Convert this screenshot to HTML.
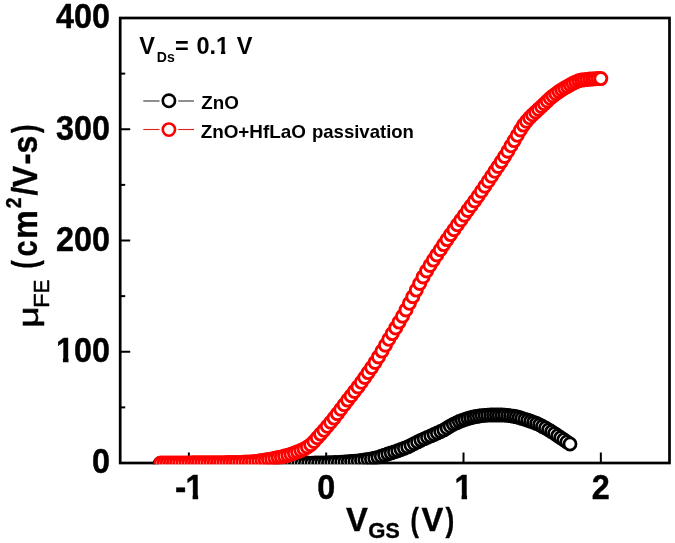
<!DOCTYPE html>
<html><head><meta charset="utf-8">
<style>
html,body{margin:0;padding:0;background:#fff;}
body{width:675px;height:543px;overflow:hidden;font-family:"Liberation Sans",sans-serif;}
svg{display:block;will-change:transform;filter:blur(0.4px);}
text{font-family:"Liberation Sans",sans-serif;font-weight:bold;fill:#000;}
</style></head>
<body>
<svg width="675" height="543" viewBox="0 0 675 543">
<defs><clipPath id="plot"><rect x="118.85000000000001" y="16.65" width="552.0" height="447.7"/></clipPath></defs>
<rect width="675" height="543" fill="#fff"/>
<g stroke="#000" stroke-width="2" fill="none">
<line x1="120.2" y1="351.75" x2="130.2" y2="351.75"/>
<line x1="120.2" y1="240.50" x2="130.2" y2="240.50"/>
<line x1="120.2" y1="129.25" x2="130.2" y2="129.25"/>
<line x1="120.2" y1="407.38" x2="125.2" y2="407.38"/>
<line x1="120.2" y1="296.12" x2="125.2" y2="296.12"/>
<line x1="120.2" y1="184.88" x2="125.2" y2="184.88"/>
<line x1="120.2" y1="73.62" x2="125.2" y2="73.62"/>
<line x1="188.86" y1="463.0" x2="188.86" y2="452.5"/>
<line x1="326.19" y1="463.0" x2="326.19" y2="452.5"/>
<line x1="463.51" y1="463.0" x2="463.51" y2="452.5"/>
<line x1="600.84" y1="463.0" x2="600.84" y2="452.5"/>
</g>
<rect x="120.2" y="18.0" width="549.3" height="445.0" fill="none" stroke="#000" stroke-width="2.7"/>
<g clip-path="url(#plot)">
<g fill="#fff" stroke="#000" stroke-width="2.75">
<circle cx="160.2" cy="463.5" r="6.05"/>
<circle cx="163.5" cy="463.5" r="6.05"/>
<circle cx="166.8" cy="463.5" r="6.05"/>
<circle cx="170.1" cy="463.5" r="6.05"/>
<circle cx="173.4" cy="463.5" r="6.05"/>
<circle cx="176.7" cy="463.5" r="6.05"/>
<circle cx="180.0" cy="463.5" r="6.05"/>
<circle cx="183.3" cy="463.5" r="6.05"/>
<circle cx="186.6" cy="463.5" r="6.05"/>
<circle cx="189.9" cy="463.5" r="6.05"/>
<circle cx="193.2" cy="463.5" r="6.05"/>
<circle cx="196.5" cy="463.5" r="6.05"/>
<circle cx="199.8" cy="463.5" r="6.05"/>
<circle cx="203.1" cy="463.5" r="6.05"/>
<circle cx="206.4" cy="463.5" r="6.05"/>
<circle cx="209.7" cy="463.5" r="6.05"/>
<circle cx="213.0" cy="463.5" r="6.05"/>
<circle cx="216.3" cy="463.5" r="6.05"/>
<circle cx="219.6" cy="463.5" r="6.05"/>
<circle cx="222.9" cy="463.5" r="6.05"/>
<circle cx="226.2" cy="463.5" r="6.05"/>
<circle cx="229.5" cy="463.5" r="6.05"/>
<circle cx="232.8" cy="463.5" r="6.05"/>
<circle cx="236.1" cy="463.5" r="6.05"/>
<circle cx="239.4" cy="463.5" r="6.05"/>
<circle cx="242.7" cy="463.5" r="6.05"/>
<circle cx="246.0" cy="463.5" r="6.05"/>
<circle cx="249.3" cy="463.5" r="6.05"/>
<circle cx="252.6" cy="463.5" r="6.05"/>
<circle cx="255.9" cy="463.5" r="6.05"/>
<circle cx="259.2" cy="463.5" r="6.05"/>
<circle cx="262.5" cy="463.5" r="6.05"/>
<circle cx="265.8" cy="463.5" r="6.05"/>
<circle cx="269.1" cy="463.5" r="6.05"/>
<circle cx="272.4" cy="463.5" r="6.05"/>
<circle cx="275.7" cy="463.5" r="6.05"/>
<circle cx="279.0" cy="463.4" r="6.05"/>
<circle cx="282.3" cy="463.4" r="6.05"/>
<circle cx="285.6" cy="463.4" r="6.05"/>
<circle cx="288.9" cy="463.4" r="6.05"/>
<circle cx="292.2" cy="463.3" r="6.05"/>
<circle cx="295.5" cy="463.3" r="6.05"/>
<circle cx="298.8" cy="463.3" r="6.05"/>
<circle cx="302.1" cy="463.2" r="6.05"/>
<circle cx="305.4" cy="463.2" r="6.05"/>
<circle cx="308.7" cy="463.1" r="6.05"/>
<circle cx="312.0" cy="463.1" r="6.05"/>
<circle cx="315.3" cy="463.0" r="6.05"/>
<circle cx="318.6" cy="463.0" r="6.05"/>
<circle cx="321.9" cy="462.9" r="6.05"/>
<circle cx="325.2" cy="462.8" r="6.05"/>
<circle cx="328.5" cy="462.7" r="6.05"/>
<circle cx="331.8" cy="462.6" r="6.05"/>
<circle cx="335.1" cy="462.4" r="6.05"/>
<circle cx="338.4" cy="462.3" r="6.05"/>
<circle cx="341.7" cy="462.1" r="6.05"/>
<circle cx="345.0" cy="461.9" r="6.05"/>
<circle cx="348.3" cy="461.7" r="6.05"/>
<circle cx="351.6" cy="461.5" r="6.05"/>
<circle cx="354.9" cy="461.2" r="6.05"/>
<circle cx="358.2" cy="460.9" r="6.05"/>
<circle cx="361.5" cy="460.4" r="6.05"/>
<circle cx="364.8" cy="460.0" r="6.05"/>
<circle cx="368.1" cy="459.5" r="6.05"/>
<circle cx="371.4" cy="458.9" r="6.05"/>
<circle cx="374.7" cy="458.2" r="6.05"/>
<circle cx="378.0" cy="457.3" r="6.05"/>
<circle cx="381.3" cy="456.2" r="6.05"/>
<circle cx="384.6" cy="455.1" r="6.05"/>
<circle cx="387.9" cy="454.0" r="6.05"/>
<circle cx="391.2" cy="452.9" r="6.05"/>
<circle cx="394.5" cy="451.8" r="6.05"/>
<circle cx="397.8" cy="450.7" r="6.05"/>
<circle cx="401.1" cy="449.5" r="6.05"/>
<circle cx="404.4" cy="448.2" r="6.05"/>
<circle cx="407.7" cy="446.9" r="6.05"/>
<circle cx="411.0" cy="445.3" r="6.05"/>
<circle cx="414.3" cy="443.6" r="6.05"/>
<circle cx="417.6" cy="441.9" r="6.05"/>
<circle cx="420.9" cy="440.3" r="6.05"/>
<circle cx="424.2" cy="438.8" r="6.05"/>
<circle cx="427.5" cy="437.3" r="6.05"/>
<circle cx="430.8" cy="435.9" r="6.05"/>
<circle cx="434.1" cy="434.5" r="6.05"/>
<circle cx="437.4" cy="433.0" r="6.05"/>
<circle cx="440.7" cy="431.5" r="6.05"/>
<circle cx="443.9" cy="429.9" r="6.05"/>
<circle cx="447.1" cy="428.0" r="6.05"/>
<circle cx="450.2" cy="426.1" r="6.05"/>
<circle cx="453.3" cy="424.3" r="6.05"/>
<circle cx="456.3" cy="422.9" r="6.05"/>
<circle cx="459.3" cy="421.5" r="6.05"/>
<circle cx="462.2" cy="420.4" r="6.05"/>
<circle cx="465.0" cy="419.4" r="6.05"/>
<circle cx="467.9" cy="418.5" r="6.05"/>
<circle cx="470.7" cy="417.7" r="6.05"/>
<circle cx="473.6" cy="417.0" r="6.05"/>
<circle cx="476.4" cy="416.5" r="6.05"/>
<circle cx="479.3" cy="416.0" r="6.05"/>
<circle cx="482.1" cy="415.6" r="6.05"/>
<circle cx="485.0" cy="415.3" r="6.05"/>
<circle cx="487.8" cy="415.1" r="6.05"/>
<circle cx="490.7" cy="415.0" r="6.05"/>
<circle cx="493.5" cy="415.0" r="6.05"/>
<circle cx="496.4" cy="415.0" r="6.05"/>
<circle cx="499.2" cy="415.0" r="6.05"/>
<circle cx="502.1" cy="415.0" r="6.05"/>
<circle cx="504.9" cy="415.1" r="6.05"/>
<circle cx="507.8" cy="415.4" r="6.05"/>
<circle cx="510.6" cy="415.8" r="6.05"/>
<circle cx="513.5" cy="416.2" r="6.05"/>
<circle cx="516.3" cy="416.7" r="6.05"/>
<circle cx="519.2" cy="417.5" r="6.05"/>
<circle cx="522.0" cy="418.4" r="6.05"/>
<circle cx="524.9" cy="419.3" r="6.05"/>
<circle cx="527.8" cy="420.2" r="6.05"/>
<circle cx="530.7" cy="421.2" r="6.05"/>
<circle cx="533.6" cy="422.3" r="6.05"/>
<circle cx="536.6" cy="423.5" r="6.05"/>
<circle cx="539.6" cy="424.8" r="6.05"/>
<circle cx="542.5" cy="426.4" r="6.05"/>
<circle cx="545.5" cy="428.0" r="6.05"/>
<circle cx="548.6" cy="429.8" r="6.05"/>
<circle cx="551.6" cy="431.7" r="6.05"/>
<circle cx="554.6" cy="433.6" r="6.05"/>
<circle cx="557.7" cy="435.7" r="6.05"/>
<circle cx="560.7" cy="437.7" r="6.05"/>
<circle cx="563.8" cy="439.7" r="6.05"/>
<circle cx="566.9" cy="441.9" r="6.05"/>
<circle cx="570.0" cy="444.0" r="6.05"/>
</g>
<g fill="#fff" stroke="#f00" stroke-width="2.9">
<circle cx="161.0" cy="462.9" r="6.05"/>
<circle cx="164.2" cy="462.9" r="6.05"/>
<circle cx="167.3" cy="462.9" r="6.05"/>
<circle cx="170.4" cy="462.9" r="6.05"/>
<circle cx="173.5" cy="462.9" r="6.05"/>
<circle cx="176.6" cy="462.9" r="6.05"/>
<circle cx="179.7" cy="462.9" r="6.05"/>
<circle cx="182.9" cy="462.9" r="6.05"/>
<circle cx="186.0" cy="462.9" r="6.05"/>
<circle cx="189.1" cy="462.9" r="6.05"/>
<circle cx="192.3" cy="462.8" r="6.05"/>
<circle cx="195.4" cy="462.8" r="6.05"/>
<circle cx="198.5" cy="462.8" r="6.05"/>
<circle cx="201.7" cy="462.8" r="6.05"/>
<circle cx="204.8" cy="462.8" r="6.05"/>
<circle cx="208.0" cy="462.8" r="6.05"/>
<circle cx="211.1" cy="462.7" r="6.05"/>
<circle cx="214.3" cy="462.7" r="6.05"/>
<circle cx="217.5" cy="462.7" r="6.05"/>
<circle cx="220.6" cy="462.7" r="6.05"/>
<circle cx="223.8" cy="462.7" r="6.05"/>
<circle cx="227.0" cy="462.6" r="6.05"/>
<circle cx="230.1" cy="462.6" r="6.05"/>
<circle cx="233.3" cy="462.6" r="6.05"/>
<circle cx="236.5" cy="462.5" r="6.05"/>
<circle cx="239.7" cy="462.4" r="6.05"/>
<circle cx="242.9" cy="462.3" r="6.05"/>
<circle cx="246.1" cy="462.1" r="6.05"/>
<circle cx="249.3" cy="462.0" r="6.05"/>
<circle cx="252.5" cy="461.8" r="6.05"/>
<circle cx="255.7" cy="461.4" r="6.05"/>
<circle cx="258.9" cy="461.0" r="6.05"/>
<circle cx="262.1" cy="460.5" r="6.05"/>
<circle cx="265.3" cy="460.0" r="6.05"/>
<circle cx="268.5" cy="459.5" r="6.05"/>
<circle cx="271.7" cy="458.9" r="6.05"/>
<circle cx="275.0" cy="458.3" r="6.05"/>
<circle cx="278.2" cy="457.6" r="6.05"/>
<circle cx="281.4" cy="456.9" r="6.05"/>
<circle cx="284.6" cy="456.1" r="6.05"/>
<circle cx="287.9" cy="455.2" r="6.05"/>
<circle cx="291.1" cy="454.2" r="6.05"/>
<circle cx="294.4" cy="453.0" r="6.05"/>
<circle cx="297.6" cy="451.8" r="6.05"/>
<circle cx="300.9" cy="450.5" r="6.05"/>
<circle cx="304.1" cy="448.9" r="6.05"/>
<circle cx="307.4" cy="447.0" r="6.05"/>
<circle cx="310.7" cy="444.7" r="6.05"/>
<circle cx="314.0" cy="441.5" r="6.05"/>
<circle cx="317.3" cy="437.8" r="6.05"/>
<circle cx="320.6" cy="434.1" r="6.05"/>
<circle cx="324.0" cy="430.3" r="6.05"/>
<circle cx="327.3" cy="426.3" r="6.05"/>
<circle cx="330.7" cy="422.2" r="6.05"/>
<circle cx="334.1" cy="418.1" r="6.05"/>
<circle cx="337.4" cy="413.7" r="6.05"/>
<circle cx="340.8" cy="409.2" r="6.05"/>
<circle cx="344.2" cy="404.7" r="6.05"/>
<circle cx="347.7" cy="400.1" r="6.05"/>
<circle cx="351.1" cy="395.7" r="6.05"/>
<circle cx="354.5" cy="391.4" r="6.05"/>
<circle cx="358.0" cy="386.9" r="6.05"/>
<circle cx="361.4" cy="382.3" r="6.05"/>
<circle cx="364.8" cy="377.5" r="6.05"/>
<circle cx="368.2" cy="372.6" r="6.05"/>
<circle cx="371.7" cy="367.6" r="6.05"/>
<circle cx="375.1" cy="362.4" r="6.05"/>
<circle cx="378.5" cy="356.9" r="6.05"/>
<circle cx="382.0" cy="351.1" r="6.05"/>
<circle cx="385.4" cy="345.2" r="6.05"/>
<circle cx="388.8" cy="339.3" r="6.05"/>
<circle cx="392.3" cy="333.6" r="6.05"/>
<circle cx="395.7" cy="327.9" r="6.05"/>
<circle cx="399.1" cy="322.1" r="6.05"/>
<circle cx="402.5" cy="316.2" r="6.05"/>
<circle cx="406.0" cy="309.9" r="6.05"/>
<circle cx="409.4" cy="303.3" r="6.05"/>
<circle cx="412.8" cy="296.7" r="6.05"/>
<circle cx="416.3" cy="290.1" r="6.05"/>
<circle cx="419.7" cy="283.5" r="6.05"/>
<circle cx="423.1" cy="276.9" r="6.05"/>
<circle cx="426.6" cy="270.9" r="6.05"/>
<circle cx="430.0" cy="265.4" r="6.05"/>
<circle cx="433.4" cy="260.1" r="6.05"/>
<circle cx="436.8" cy="254.9" r="6.05"/>
<circle cx="440.3" cy="249.7" r="6.05"/>
<circle cx="443.7" cy="244.6" r="6.05"/>
<circle cx="447.1" cy="239.6" r="6.05"/>
<circle cx="450.6" cy="234.6" r="6.05"/>
<circle cx="454.0" cy="229.7" r="6.05"/>
<circle cx="457.4" cy="224.8" r="6.05"/>
<circle cx="460.9" cy="220.0" r="6.05"/>
<circle cx="464.3" cy="215.2" r="6.05"/>
<circle cx="467.7" cy="210.4" r="6.05"/>
<circle cx="471.1" cy="205.7" r="6.05"/>
<circle cx="474.6" cy="201.0" r="6.05"/>
<circle cx="478.0" cy="196.2" r="6.05"/>
<circle cx="481.4" cy="191.2" r="6.05"/>
<circle cx="484.8" cy="186.2" r="6.05"/>
<circle cx="488.2" cy="181.2" r="6.05"/>
<circle cx="491.5" cy="176.2" r="6.05"/>
<circle cx="494.8" cy="171.3" r="6.05"/>
<circle cx="498.1" cy="166.5" r="6.05"/>
<circle cx="501.4" cy="161.6" r="6.05"/>
<circle cx="504.6" cy="156.5" r="6.05"/>
<circle cx="507.8" cy="151.2" r="6.05"/>
<circle cx="511.0" cy="145.8" r="6.05"/>
<circle cx="514.2" cy="140.6" r="6.05"/>
<circle cx="517.3" cy="135.3" r="6.05"/>
<circle cx="520.4" cy="130.0" r="6.05"/>
<circle cx="523.5" cy="125.1" r="6.05"/>
<circle cx="526.5" cy="121.2" r="6.05"/>
<circle cx="529.6" cy="117.8" r="6.05"/>
<circle cx="532.6" cy="114.8" r="6.05"/>
<circle cx="535.6" cy="112.0" r="6.05"/>
<circle cx="538.5" cy="109.3" r="6.05"/>
<circle cx="541.5" cy="106.5" r="6.05"/>
<circle cx="544.4" cy="103.7" r="6.05"/>
<circle cx="547.3" cy="101.0" r="6.05"/>
<circle cx="550.2" cy="98.3" r="6.05"/>
<circle cx="553.1" cy="95.9" r="6.05"/>
<circle cx="556.0" cy="93.7" r="6.05"/>
<circle cx="558.9" cy="91.6" r="6.05"/>
<circle cx="561.8" cy="89.7" r="6.05"/>
<circle cx="564.6" cy="88.0" r="6.05"/>
<circle cx="567.5" cy="86.4" r="6.05"/>
<circle cx="570.3" cy="84.8" r="6.05"/>
<circle cx="573.1" cy="83.3" r="6.05"/>
<circle cx="575.9" cy="81.9" r="6.05"/>
<circle cx="578.7" cy="80.8" r="6.05"/>
<circle cx="581.5" cy="80.1" r="6.05"/>
<circle cx="584.3" cy="79.7" r="6.05"/>
<circle cx="587.1" cy="79.4" r="6.05"/>
<circle cx="589.9" cy="79.1" r="6.05"/>
<circle cx="592.6" cy="78.9" r="6.05"/>
<circle cx="595.3" cy="78.7" r="6.05"/>
<circle cx="598.1" cy="78.6" r="6.05"/>
<circle cx="600.8" cy="78.6" r="6.05"/>
</g>
</g>
<g stroke="#000" stroke-width="0.45" stroke-linejoin="round">
<text transform="translate(91.92,473.30) scale(0.940,1)" font-size="34.4" text-anchor="start" >0</text>
<text transform="translate(55.95,362.05) scale(0.940,1)" font-size="34.4" text-anchor="start" >100</text><rect x="55.99" y="357.14" width="6.96" height="6.71" fill="#fff" stroke="none"/><rect x="68.48" y="357.14" width="6.55" height="6.71" fill="#fff" stroke="none"/>
<text transform="translate(55.95,250.80) scale(0.940,1)" font-size="34.4" text-anchor="start" >200</text>
<text transform="translate(55.95,139.55) scale(0.940,1)" font-size="34.4" text-anchor="start" >300</text>
<text transform="translate(55.95,28.30) scale(0.940,1)" font-size="34.4" text-anchor="start" >400</text>
</g>
<g stroke="#000" stroke-width="0.45" stroke-linejoin="round">
<text transform="translate(317.20,498.70) scale(0.940,1)" font-size="34.4" text-anchor="start" >0</text>
<text transform="translate(454.52,498.70) scale(0.940,1)" font-size="34.4" text-anchor="start" >1</text><rect x="454.56" y="493.79" width="6.96" height="6.71" fill="#fff" stroke="none"/><rect x="467.05" y="493.79" width="6.55" height="6.71" fill="#fff" stroke="none"/>
<text transform="translate(591.85,498.70) scale(0.940,1)" font-size="34.4" text-anchor="start" >2</text>
<text transform="translate(175.08,498.70) scale(0.985,1)" font-size="34.4" text-anchor="start" >-</text><text transform="translate(185.59,498.70) scale(0.942,1)" font-size="34.4" text-anchor="start" >1</text><rect x="185.63" y="493.79" width="6.97" height="6.71" fill="#fff" stroke="none"/><rect x="198.14" y="493.79" width="6.56" height="6.71" fill="#fff" stroke="none"/>
</g>
<!-- annotation -->
<text transform="translate(139.20,53.70) scale(1.000,1)" font-size="23.5" text-anchor="start" >V</text>
<text transform="translate(156.80,62.30) scale(1.000,1)" font-size="14" text-anchor="start" >Ds</text>
<text transform="translate(175.00,53.70) scale(1.000,1)" font-size="23.5" text-anchor="start" >=</text>
<text transform="translate(196.40,53.70) scale(1.000,1)" font-size="23.5" text-anchor="start" >0.1</text><rect x="215.48" y="49.90" width="5.45" height="5.60" fill="#fff" stroke="none"/><rect x="225.26" y="49.90" width="5.16" height="5.60" fill="#fff" stroke="none"/>
<text transform="translate(236.80,53.70) scale(1.000,1)" font-size="23.5" text-anchor="start" >V</text>
<!-- legend -->
<g stroke-width="1.1">
<line x1="143.3" y1="101" x2="159.5" y2="101" stroke="#333"/>
<line x1="178.2" y1="101" x2="194" y2="101" stroke="#333"/>
<line x1="143.3" y1="129.5" x2="159.5" y2="129.5" stroke="#d22"/>
<line x1="178.2" y1="129.5" x2="194" y2="129.5" stroke="#d22"/>
</g>
<circle cx="168.9" cy="100.8" r="6.15" fill="#fff" stroke="#000" stroke-width="2.6"/>
<circle cx="168.9" cy="129.6" r="6.15" fill="#fff" stroke="#f00" stroke-width="2.6"/>
<text transform="translate(201.30,108.60) scale(1.000,1)" font-size="18.2" text-anchor="start" textLength="37.6" lengthAdjust="spacingAndGlyphs">ZnO</text>
<text transform="translate(200.65,138.20) scale(1.000,1)" font-size="18.2" text-anchor="start" textLength="105.3" lengthAdjust="spacingAndGlyphs">ZnO+HfLaO</text>
<text transform="translate(311.95,138.20) scale(1.000,1)" font-size="18.2" text-anchor="start" textLength="102" lengthAdjust="spacingAndGlyphs">passivation</text>
<!-- x axis title: V_GS (V) -->
<g stroke="#000" stroke-width="0.4" stroke-linejoin="round">
<text transform="translate(345.93,530.65) scale(0.975,1)" font-size="33.6" text-anchor="start" >V</text>
<text transform="translate(368.34,538.25) scale(0.995,1)" font-size="22.2" text-anchor="start" >G</text>
<text transform="translate(385.43,538.25) scale(0.962,1)" font-size="22.2" text-anchor="start" >S</text>
<text transform="translate(410.40,530.65) scale(0.749,1)" font-size="33.6" text-anchor="start" >(</text>
<text transform="translate(421.53,530.65) scale(0.973,1)" font-size="33.6" text-anchor="start" >V</text>
<text transform="translate(445.52,530.65) scale(0.780,1)" font-size="33.6" text-anchor="start" >)</text>
</g>
<!-- y axis title: mu_FE (cm^2/V-s) -->
<g transform="translate(37.3,325) rotate(-90)" stroke="#000" stroke-width="0.4" stroke-linejoin="round">
<text transform="translate(-2.71,0.30) scale(1.338,1)" font-size="27.8" text-anchor="start" style="font-weight:normal" stroke="#000" stroke-width="0.55">&#956;</text>
<text transform="translate(16.99,11.25) scale(1.050,1)" font-size="22.7" text-anchor="start" style="font-weight:normal" stroke="#000" stroke-width="0.55">F</text>
<text transform="translate(31.63,11.25) scale(0.898,1)" font-size="22.7" text-anchor="start" style="font-weight:normal" stroke="#000" stroke-width="0.55">E</text>
<text transform="translate(56.52,0.00) scale(0.706,1)" font-size="34.9" text-anchor="start" >(</text>
<text transform="translate(68.62,0.00) scale(0.828,1)" font-size="34.9" text-anchor="start" >c</text>
<text transform="translate(86.14,0.00) scale(0.918,1)" font-size="34.9" text-anchor="start" >m</text>
<text transform="translate(116.63,-16.70) scale(0.865,1)" font-size="22.2" text-anchor="start" >2</text>
<text transform="translate(129.39,0.00) scale(0.899,1)" font-size="34.9" text-anchor="start" >/</text>
<text transform="translate(137.73,0.00) scale(0.919,1)" font-size="34.9" text-anchor="start" >V</text>
<text transform="translate(160.30,0.00) scale(0.993,1)" font-size="34.9" text-anchor="start" >-</text>
<text transform="translate(171.57,0.00) scale(0.922,1)" font-size="34.9" text-anchor="start" >s</text>
<text transform="translate(192.03,0.00) scale(0.731,1)" font-size="34.9" text-anchor="start" >)</text>
</g>
</svg>
</body></html>
